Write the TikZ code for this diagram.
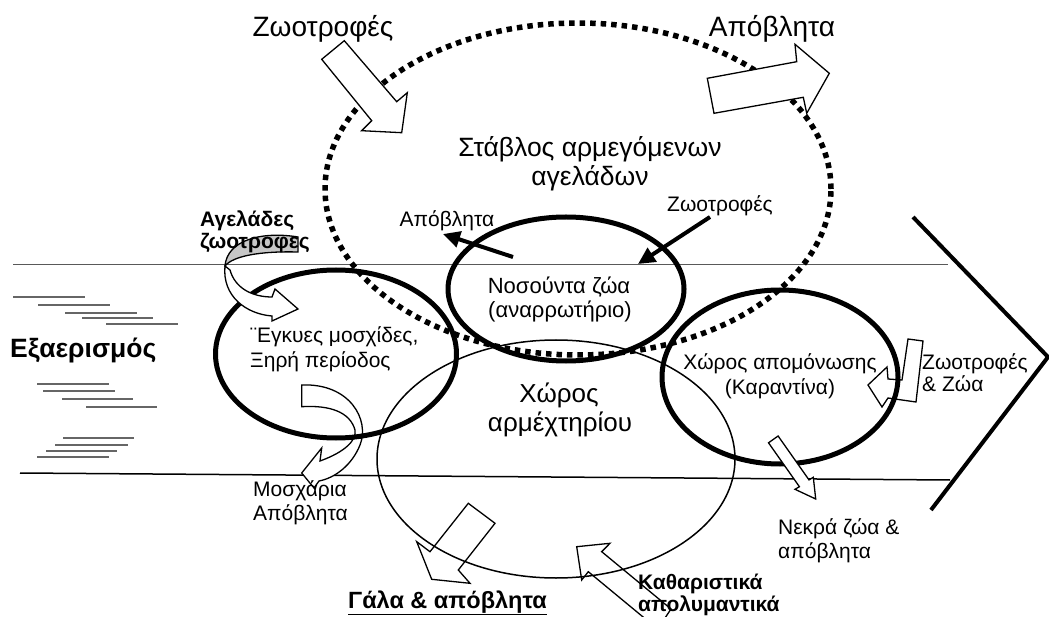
\documentclass[tikz,border=0pt]{standalone}
\usepackage{fontspec}
\setmainfont{Liberation Sans}
\usetikzlibrary{shapes.geometric,arrows.meta}
\begin{document}
\begin{tikzpicture}[x=1pt,y=-1pt,
  lbl/.style={inner sep=0pt, anchor=base, font=\fontsize{21}{25}\selectfont},
  lblw/.style={lbl, anchor=base west},
  biglbl/.style={inner sep=0pt, anchor=base, font=\fontsize{28}{32}\selectfont},
  midlbl/.style={inner sep=0pt, anchor=base, font=\fontsize{26.5}{30}\selectfont},
  boldlbl/.style={inner sep=0pt, anchor=base west, font=\bfseries\fontsize{21}{25}\selectfont},
  thickring/.style={draw, ellipse, line width=5pt, inner sep=0pt},
  thinring/.style={draw, ellipse, line width=1.5pt, inner sep=0pt},
  dotring/.style={draw, ellipse, line width=5.5pt, dash pattern=on 5.5pt off 5pt, inner sep=0pt},
  blockarrow/.style={draw, line width=1.3pt, line join=miter, fill=white},
  openarrow/.style={draw, line width=1.3pt, line join=miter},
  fatarrow/.style={line width=4pt, -{Triangle[length=17pt,width=16pt]}},
  ventline/.style={draw=black!60, line width=1.5pt},
  floorline/.style={line width=1.5pt},
]
\useasboundingbox (0,0) rectangle (1049,617);

% floor lines
\coordinate (tlA) at (13,264.5);
\coordinate (tlB) at (948,264.5);
\coordinate (blA) at (20,473);
\coordinate (blB) at (950,480);
\draw[floorline, draw=black!65] (tlA) -- (tlB);
\draw[floorline] (blA) -- (blB);

% chevron
\coordinate (chA) at (913,217);
\coordinate (chB) at (1048,357);
\coordinate (chC) at (931,510);
\draw[line width=4pt] (chA) -- (chB) -- (chC);

% ventilation lines
\foreach \xa/\xb/\yy in {13/85/297, 38/110/305, 65/137/313, 82/153/318, 106/178/324,
  37/109/384, 43/115/391, 62/133/399, 86/157/407,
  63/134/438, 55/128/445, 46/117/451, 37/109/457}
  \draw[ventline] (\xa,\yy) -- (\xb,\yy);

% big dotted stable
\node[dotring, minimum width=506pt, minimum height=332pt] (stable) at (578,189) {};

% thin milking parlour
\node[thinring, minimum width=358pt, minimum height=238pt] (parlour) at (556,459) {};

% bent arrow feed & animals (below quarantine ring)
\draw[blockarrow] (908,339) -- (923,341) -- (916,402) -- (888,398) -- (882,407) -- (868,385) -- (887,367) -- (888,379) -- (902,380) -- cycle;

% curved ribbon calves / waste
\draw[blockarrow] (301.7,385) .. controls (350,383) and (370,420) .. (360,445)
  .. controls (352,465) and (335,478) .. (319,481) -- (314,488) -- (301.7,473) -- (321.7,448) -- (320,461)
  .. controls (345,452) and (357,440) .. (355,430) .. controls (350,412) and (330,405) .. (301.7,406.7) -- cycle;

% thick rings
\node[thickring, minimum width=236pt, minimum height=144pt] (sick) at (566,289) {};
\node[thickring, minimum width=241pt, minimum height=168pt] (preg) at (336,354) {};
\node[thickring, minimum width=236pt, minimum height=174pt] (quar) at (780,377) {};

% curved ribbon cows / feed
\draw[blockarrow, fill=black!22] (298,237) .. controls (262,231) and (227,240) .. (225,266)
  .. controls (233,256) and (260,251) .. (298,252) -- cycle;
\draw[blockarrow] (225,266) .. controls (222,296) and (246,314) .. (272,316) -- (272,321) -- (298,309)
  -- (275,289) -- (272,297) .. controls (252,297) and (235,288) .. (230,270) -- cycle;

% block arrows
\draw[blockarrow] (344.3,40.7) -- (396.7,101.7) -- (407.3,92.7) -- (401.7,132.7) -- (361.7,130.7) -- (371.7,120.7) -- (321.7,59.3) -- cycle;
\draw[blockarrow] (707.3,78.3) -- (796.7,61.7) -- (795,44.3) -- (829.3,73.3) -- (806.7,113.3) -- (803.3,97.3) -- (714,113.3) -- cycle;
\draw[openarrow] (468.3,503.3) -- (495,523.3) -- (458.3,570) -- (470,583.3) -- (431.7,579.3) -- (416.7,541.7) -- (430,551.7) -- cycle;
\draw[openarrow] (576.7,546.7) -- (610,543.3) -- (601.7,551.7) -- (671,609) -- (657.6,629) -- (588.3,571.7) -- (581.7,580) -- cycle;
\draw[blockarrow] (768.5,442.8) -- (778.1,436) -- (809,479.9) -- (813.3,477.3) -- (815.7,499) -- (795,489.3) -- (799.4,486.7) -- cycle;

% fat arrows
\coordinate (wsA) at (513,257);
\coordinate (wsB) at (443,234);
\coordinate (fdA) at (710,217);
\coordinate (fdB) at (638,264);
\draw[fatarrow] (wsA) -- (wsB);
\draw[fatarrow] (fdA) -- (fdB);

% texts
\node[biglbl] (tFeed) at (323,37) {Ζωοτροφές};
\node[biglbl] (tWaste) at (772,37) {Απόβλητα};
\node[midlbl] (tStab1) at (590,157) {Στάβλος αρμεγόμενων};
\node[midlbl] (tStab2) at (590,186) {αγελάδων};
\node[lbl] (tW2) at (447,227) {Απόβλητα};
\node[lbl] (tF2) at (720,212) {Ζωοτροφές};
\node[lbl, font=\fontsize{22}{26}\selectfont] (tSick1) at (559,294) {Νοσούντα ζώα};
\node[lbl, font=\fontsize{22}{26}\selectfont] (tSick2) at (560,318) {(αναρρωτήριο)};
\node[lblw] (tPreg1) at (250,343) {¨Εγκυες μοσχίδες,};
\node[lblw] (tPreg2) at (250,367) {Ξηρή περίοδος};
\node[inner sep=0pt, anchor=base, font=\fontsize{26}{30}\selectfont] (tPar1) at (559,402.7) {Χώρος};
\node[inner sep=0pt, anchor=base, font=\fontsize{26}{30}\selectfont] (tPar2) at (560,431.7) {αρμέχτηρίου};
\node[lbl] (tQ1) at (780,370) {Χώρος απομόνωσης};
\node[lbl] (tQ2) at (780,394) {(Καραντίνα)};
\node[lblw] (tFZ1) at (922,370) {Ζωοτροφές};
\node[lblw] (tFZ2) at (922,391) {\& Ζώα};
\node[lblw] (tDead1) at (778,534) {Νεκρά ζώα \&};
\node[lblw] (tDead2) at (778,558) {απόβλητα};
\node[boldlbl] (tCl1) at (638,589) {Καθαριστικά};
\node[boldlbl] (tCl2) at (638,611) {απολυμαντικά};
\node[inner sep=0pt, anchor=base, font=\bfseries\fontsize{23.5}{27}\selectfont] (tMilk) at (447.5,608) {\underline{Γάλα \& απόβλητα}};
\node[lblw] (tCalf1) at (253,496) {Μοσχάρια};
\node[lblw] (tCalf2) at (253,520.7) {Απόβλητα};
\node[boldlbl] (tCow1) at (200,227) {Αγελάδες};
\node[boldlbl] (tCow2) at (200,249) {ζωοτροφες};
\node[inner sep=0pt, anchor=base west, font=\bfseries\fontsize{26.5}{30}\selectfont] (tVent) at (10,358) {Εξαερισμός};
\end{tikzpicture}
\end{document}
